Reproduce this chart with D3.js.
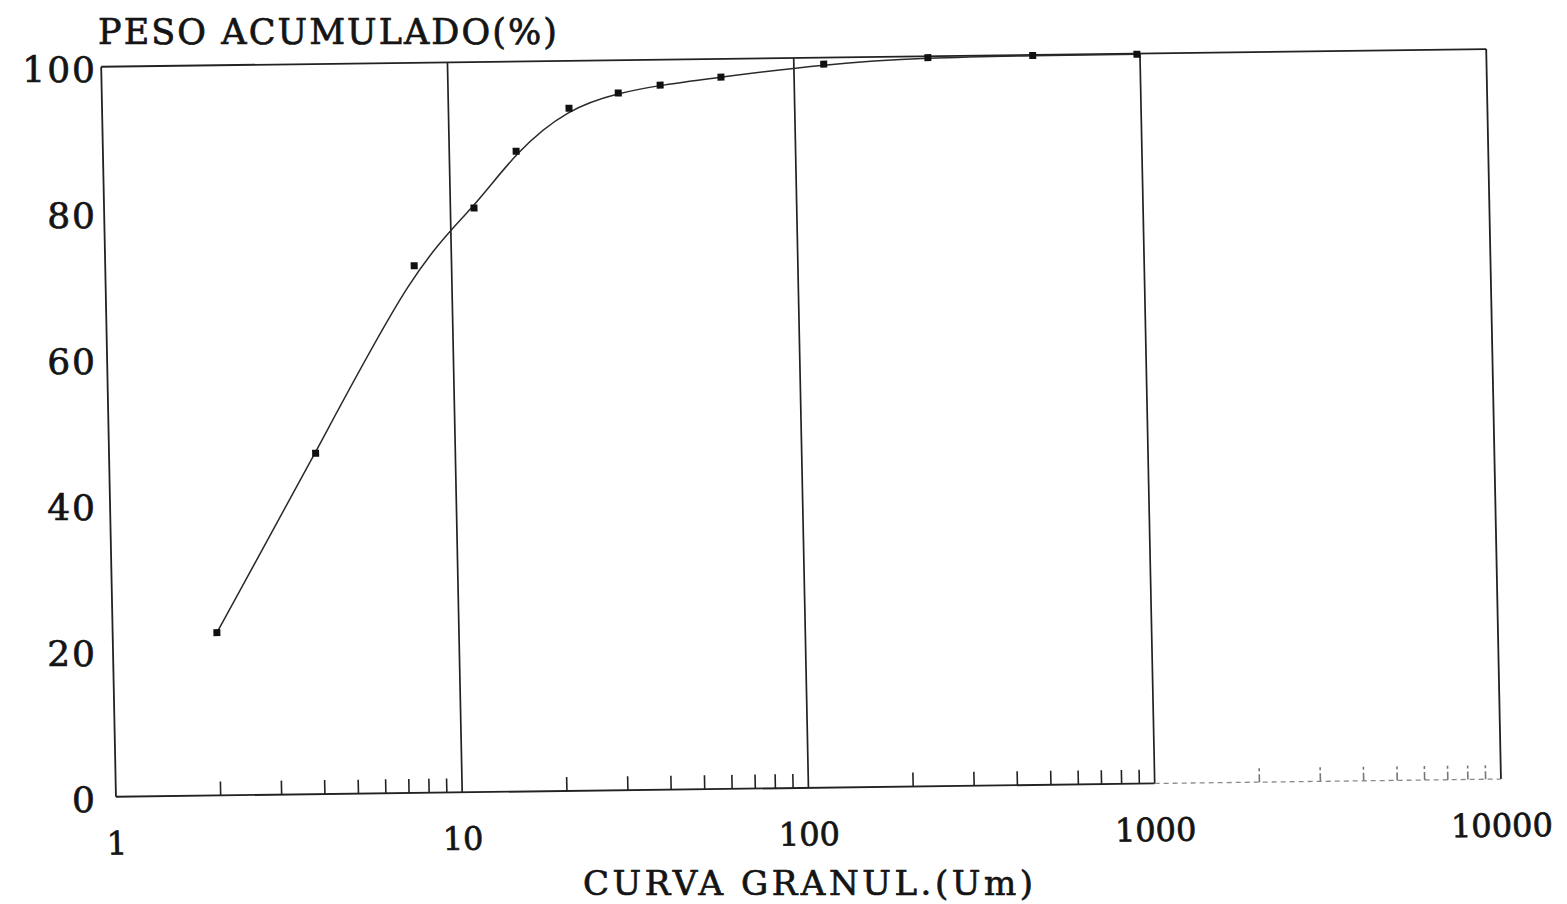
<!DOCTYPE html>
<html>
<head>
<meta charset="utf-8">
<script src="https://cdn.jsdelivr.net/npm/d3@7"></script>
<style>
body { margin: 0; background: #fff; }
text { font-family: "DejaVu Serif", "Liberation Serif", serif; fill: #141414; stroke: #141414; stroke-width: 0.7px; }
</style>
</head>
<body>
<div class="chart"></div>
<script>
// chart size
var svgWidth = 1567;
var svgHeight = 904;
var plotW = 1385;
var plotH = 730;

// the scanned sheet is a little rotated / sheared
var skew = [1, -0.01278, 0.0202, 1, 101.2, 66.75];

// data
var sizes = [2, 3.95, 7.8, 11.7, 15.6, 22.3, 31, 41, 61.5, 122, 244, 490, 980];
var cumulative = [22.3, 46.7, 72.2, 80.0, 87.7, 93.5, 95.5, 96.5, 97.5, 99.1, 99.8, 99.9, 99.9];

// tick labels
var xLabels = [1, 10, 100, 1000, 10000];
var yLabels = [0, 20, 40, 60, 80, 100];
var yTitle = "PESO ACUMULADO(%)";
var xTitle = "CURVA GRANUL.(Um)";

var svg = d3.select(".chart")
  .append("svg")
  .attr("width", svgWidth)
  .attr("height", svgHeight);

svg.append("rect")
  .attr("width", svgWidth)
  .attr("height", svgHeight)
  .attr("fill", "#ffffff");

var x = d3.scaleLog().domain([1, 10000]).range([0, plotW]);
var y = d3.scaleLinear().domain([0, 100]).range([plotH, 0]);

var chart = svg.append("g")
  .attr("transform", "matrix(" + skew.join(",") + ")");

// vertical decade lines
chart.selectAll(".decade")
  .data(xLabels.slice(1, -1))
  .enter()
  .append("line")
  .attr("class", "decade")
  .attr("x1", function(d) { return x(d); })
  .attr("x2", function(d) { return x(d); })
  .attr("y1", 0)
  .attr("y2", plotH)
  .attr("stroke", "#222")
  .attr("stroke-width", 1.7);

// frame
var frame = [
  [0, 0, plotW, 0],
  [0, 0, 0, plotH],
  [plotW, 0, plotW, plotH],
  [0, plotH, x(1000), plotH]
];
chart.selectAll(".frame")
  .data(frame)
  .enter()
  .append("line")
  .attr("class", "frame")
  .attr("x1", function(d) { return d[0]; })
  .attr("y1", function(d) { return d[1]; })
  .attr("x2", function(d) { return d[2]; })
  .attr("y2", function(d) { return d[3]; })
  .attr("stroke", "#222")
  .attr("stroke-width", 1.8);

// the last decade of the base line is faint on the print
chart.append("line")
  .attr("x1", x(1000)).attr("x2", plotW)
  .attr("y1", plotH).attr("y2", plotH)
  .attr("stroke", "#8a8a8a")
  .attr("stroke-width", 1.3)
  .attr("stroke-dasharray", "5,4");

// minor ticks on the log axis
var minor = x.ticks().filter(function(d) { return xLabels.indexOf(d) < 0; });
var minorAxis = chart.append("g")
  .attr("transform", "translate(0," + plotH + ")")
  .call(d3.axisBottom(x).tickValues(minor).tickSize(-14).tickSizeOuter(0).tickFormat(""));
minorAxis.select(".domain").remove();
minorAxis.selectAll(".tick line")
  .attr("stroke", function(d) { return d > 1000 ? "#777" : "#222"; })
  .attr("stroke-width", 1.6)
  .attr("stroke-dasharray", function(d) { return d > 1000 ? "8,3" : null; });

// x tick labels
chart.selectAll(".xlab")
  .data(xLabels)
  .enter()
  .append("text")
  .attr("class", "xlab")
  .attr("x", function(d) { return x(d); })
  .attr("y", plotH + 46)
  .attr("dy", "0.36em")
  .attr("text-anchor", "middle")
  .style("font-size", "32px")
  .text(function(d) { return d; });

// y tick labels (not sheared on the print)
var yAxis = svg.append("g")
  .attr("transform", "translate(97," + (skew[5] + 2) + ")")
  .call(d3.axisLeft(y).tickValues(yLabels).tickSize(0).tickPadding(0));
yAxis.select(".domain").remove();
yAxis.selectAll("text")
  .attr("x", 0)
  .attr("dy", "0.36em")
  .style("font-size", "36px")
  .style("letter-spacing", "2px")
  .style("font-family", "'DejaVu Serif', serif")
  .attr("fill", "#141414");

// curve
var line = d3.line()
  .x(function(d, i) { return x(sizes[i]); })
  .y(function(d) { return y(d); })
  .curve(d3.curveBasis);

chart.append("path")
  .datum(cumulative)
  .attr("d", line)
  .attr("fill", "none")
  .attr("stroke", "#2a2a2a")
  .attr("stroke-width", 1.5);

// points
chart.selectAll(".pt")
  .data(cumulative)
  .enter()
  .append("rect")
  .attr("class", "pt")
  .attr("x", function(d, i) { return x(sizes[i]) - 3.5; })
  .attr("y", function(d) { return y(d) - 3.5; })
  .attr("width", 7)
  .attr("height", 7)
  .attr("fill", "#111");

// titles
svg.append("text")
  .attr("x", 98)
  .attr("y", 44)
  .attr("textLength", 459)
  .attr("lengthAdjust", "spacing")
  .style("font-size", "35px")
  .text(yTitle);

svg.append("text")
  .attr("x", 583)
  .attr("y", 895)
  .attr("textLength", 450)
  .attr("lengthAdjust", "spacing")
  .style("font-size", "34px")
  .text(xTitle);
</script>
</body>
</html>
